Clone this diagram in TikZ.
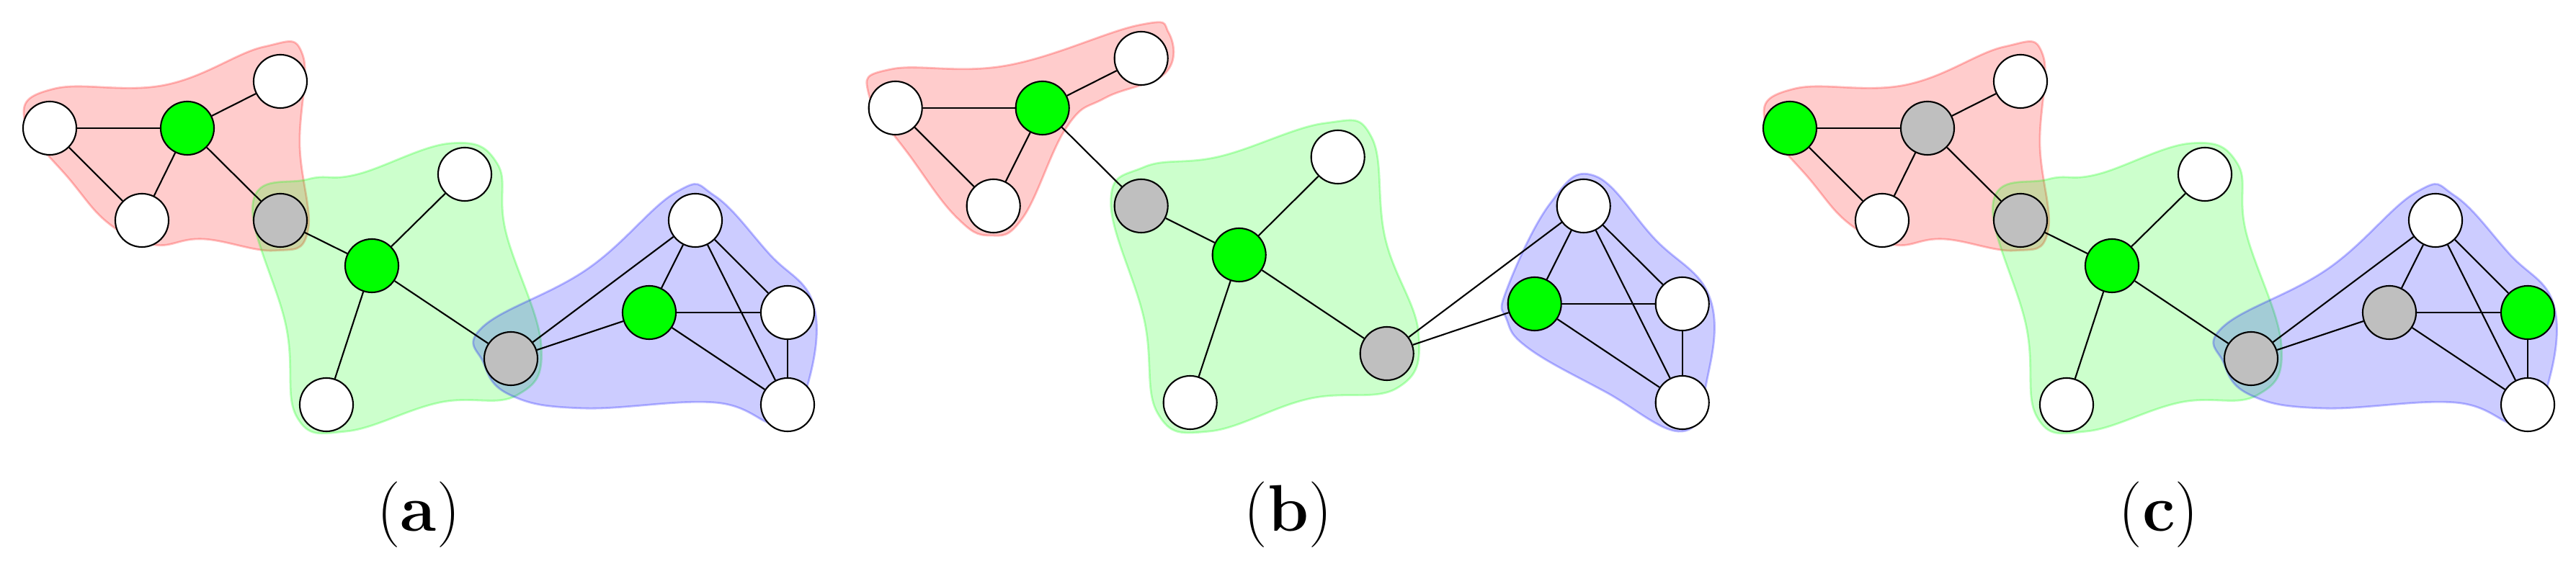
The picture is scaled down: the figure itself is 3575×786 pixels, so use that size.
\documentclass[tikz,border=0pt]{standalone}
\begin{document}
\begin{tikzpicture}[x=0.01cm,y=-0.01cm,
  v/.style={circle,draw=black,line width=0.6pt,minimum size=0.74cm,inner sep=0pt,fill=white},
  vg/.style={v,fill=green},
  vs/.style={v,fill=gray!50},
  e/.style={line width=0.6pt},
  blob/.style={fill opacity=0.2,draw opacity=0.25,line width=0.8pt},
  lab/.style={font=\fontsize{26}{30}\selectfont}]
\useasboundingbox (0,0) rectangle (3575,786);
% ---------- panels (a) and (c)
\foreach \sx/\pn/\ca/\cc/\ce/\cf in {0/a/vg/vs/vg/v,2415/c/vs/vs/vs/vg}{
\begin{scope}[xshift=\sx*0.01cm]
\fill[red,blob,draw=red] plot[smooth cycle,tension=0.7] coordinates{(34,166)(76,123)(229,118)(366,65)(420,76)(416,202)(427,322)(381,348)(282,332)(214,340)(153,312)(99,252)};
\fill[green,blob,draw=green] plot[smooth cycle,tension=0.7] coordinates{(351,282)(427,249)(496,242)(625,199)(690,227)(702,322)(751,479)(717,549)(610,559)(481,599)(412,579)(397,453)};
\fill[blue,blob,draw=blue] plot[smooth cycle,tension=0.7] coordinates{(671,453)(816,373)(938,267)(992,272)(1068,353)(1129,423)(1121,534)(1083,589)(992,559)(809,567)(709,549)(671,504)};
\ifnum\sx=0
\node[v] (\pn n1) at (69,178) {};
\else
\node[vg] (\pn n1) at (69,178) {};
\fi
\node[\ca] (\pn g1) at (260,178) {};
\node[v] (\pn t1) at (389,113) {};
\node[v] (\pn b1) at (197,306) {};
\node[\cc] (\pn s1) at (389,306) {};
\node[vg] (\pn g2) at (516,369) {};
\node[v] (\pn t2) at (645,242) {};
\node[v] (\pn b2) at (453,562) {};
\node[vs] (\pn s2) at (709,498) {};
\node[v] (\pn tp) at (965,306) {};
\node[\ce] (\pn g3) at (901,434) {};
\node[\cf] (\pn r) at (1093,434) {};
\node[v] (\pn br) at (1093,562) {};
\node[lab] at (581,715) {(\textbf{\pn})};
\end{scope}
\foreach \p/\q in {n1/g1,n1/b1,g1/t1,g1/b1,g1/s1,s1/g2,g2/t2,g2/b2,g2/s2,s2/tp,s2/g3,tp/g3,tp/r,tp/br,g3/r,g3/br,r/br}
  \draw[e] (\pn\p) -- (\pn\q);
}
% ---------- panel (b)
\begin{scope}[xshift=11.9cm]
\fill[red,blob,draw=red] plot[smooth cycle,tension=0.7] coordinates{(15,131)(46,96)(206,91)(389,35)(431,45)(427,101)(343,136)(290,176)(229,302)(183,327)(137,302)(76,222)};
\fill[green,blob,draw=green] plot[smooth cycle,tension=0.7] coordinates{(351,282)(397,232)(503,217)(648,171)(713,191)(732,332)(778,463)(748,539)(625,554)(488,599)(416,574)(397,443)};
\fill[blue,blob,draw=blue] plot[smooth cycle,tension=0.7] coordinates{(900,403)(961,282)(1022,244)(1106,332)(1182,413)(1178,529)(1144,599)(1037,544)(931,484)(900,443)};
\node[v] (bn1) at (52,150) {};
\node[vg] (bg1) at (256,150) {};
\node[v] (bt1) at (393,81) {};
\node[v] (bb1) at (188,286) {};
\node[vs] (bs1) at (393,286) {};
\node[vg] (bg2) at (529,354) {};
\node[v] (bt2) at (666,218) {};
\node[v] (bb2) at (461,559) {};
\node[vs] (bs2) at (734,491) {};
\node[v] (btp) at (1007,286) {};
\node[vg] (bg3) at (939,422) {};
\node[v] (br) at (1144,422) {};
\node[v] (bbr) at (1144,559) {};
\node[lab] at (597,715) {(\textbf{b})};
\end{scope}
\foreach \p/\q in {n1/g1,n1/b1,g1/t1,g1/b1,g1/s1,s1/g2,g2/t2,g2/b2,g2/s2,s2/tp,s2/g3,tp/g3,tp/r,tp/br,g3/r,g3/br,r/br}
  \draw[e] (b\p) -- (b\q);
\end{tikzpicture}
\end{document}
